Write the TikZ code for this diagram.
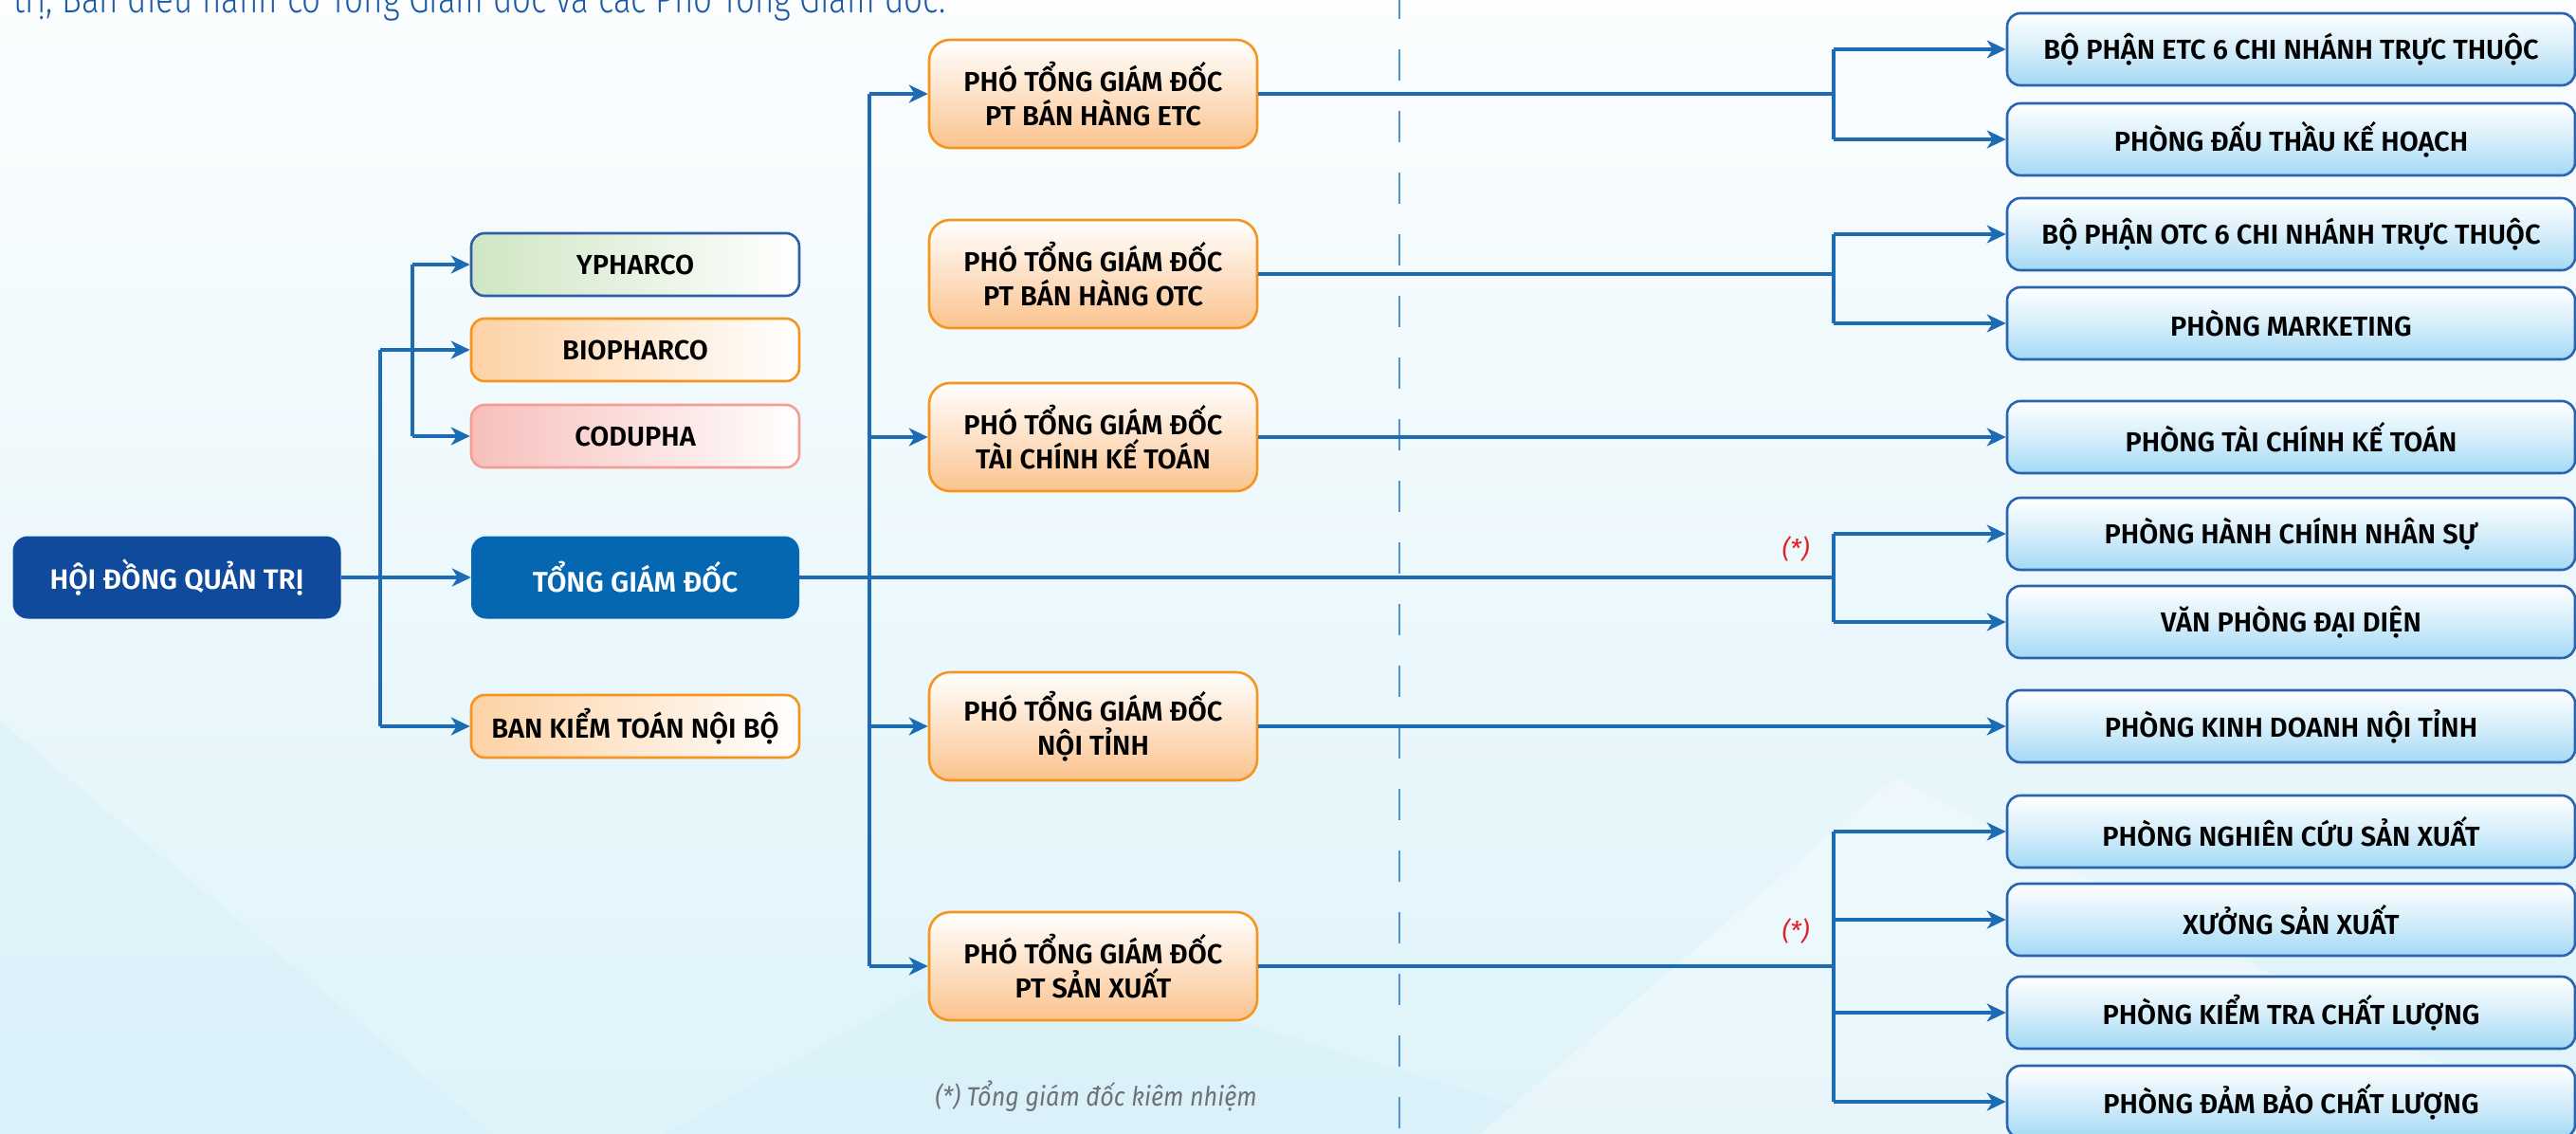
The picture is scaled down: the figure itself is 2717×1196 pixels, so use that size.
\documentclass[tikz,border=0pt]{standalone}
\usepackage{fontspec}
\setmainfont{Fira Sans}[BoldFont={Fira Sans SemiBold},ItalicFont={Fira Sans Italic},BoldItalicFont={Fira Sans SemiBold Italic}]
\newfontfamily\lightfont{Fira Sans Light}[FakeStretch=0.82]
\newfontfamily\notefont{Fira Sans}[FakeStretch=0.9]
\usetikzlibrary{arrows.meta}
\definecolor{linec}{HTML}{1B6CB4}
\definecolor{dashc}{HTML}{4F93D2}
\definecolor{navy}{HTML}{0F4A9C}
\definecolor{tgdc}{HTML}{0567B2}
\definecolor{orgb}{HTML}{F7941D}
\definecolor{orgf}{HTML}{FBC38E}
\definecolor{orgl}{HTML}{FDD2A5}
\definecolor{grnf}{HTML}{CFE6C4}
\definecolor{grnb}{HTML}{2E5EA8}
\definecolor{pnkf}{HTML}{F7BFBB}
\definecolor{pnkb}{HTML}{F59D95}
\definecolor{bluf}{HTML}{A3D9F5}
\definecolor{blub}{HTML}{2A64B0}
\definecolor{redc}{HTML}{E31E24}
\definecolor{grayc}{HTML}{6D7278}
\definecolor{introc}{HTML}{1C5AA6}
\definecolor{bgtop}{HTML}{FBFDFE}
\definecolor{bgbot}{HTML}{DEF3FA}
\definecolor{bgsh}{HTML}{D3EEF8}
\begin{document}
\begin{tikzpicture}[x=1pt,y=-1pt,
  conn/.style={draw=linec,line width=3.2pt},
  arr/.style={conn,-{Stealth[length=20pt,width=19pt,inset=6pt]}},
  lbox/.style={rectangle,rounded corners=14pt,line width=2.6pt,minimum width=346pt,minimum height=66pt,inner sep=0pt,
     font=\bfseries\fontsize{29}{34}\selectfont,text=black,right color=white},
  dbox/.style={rectangle,rounded corners=16pt,minimum width=346pt,minimum height=87pt,inner sep=0pt,
     font=\bfseries\fontsize{29.5}{34}\selectfont,text=white},
  mbox/.style={rectangle,rounded corners=22pt,line width=2.6pt,draw=orgb,top color=white,bottom color=orgf,
     minimum width=346pt,minimum height=114pt,inner sep=0pt,align=center,
     font=\bfseries\fontsize{29}{36}\selectfont,text=black},
  rbox/.style={rectangle,rounded corners=14pt,line width=2.6pt,draw=blub,top color=white,bottom color=bluf,
     middle color=white!55!bluf,
     minimum width=599pt,minimum height=76pt,inner sep=0pt,
     font=\bfseries\fontsize{29}{34}\selectfont,text=black},
  star/.style={text=redc,font=\itshape\fontsize{27}{30}\selectfont,inner sep=0pt}
]
\useasboundingbox (0,0) rectangle (2717,1196);
\clip (0,0) rectangle (2717,1196);
% background
\fill[top color=bgtop,bottom color=bgbot] (0,0) rectangle (2717,1196);
\fill[bgsh,opacity=0.35] (0,760) -- (520,1196) -- (0,1196) -- cycle;
\fill[bgsh,opacity=0.3] (700,1196) -- (1050,1000) -- (1700,1196) -- cycle;
\fill[white,opacity=0.3] (1560,1196) -- (2000,820) -- (2717,1196) -- cycle;

% intro text (clipped at top)
\node[anchor=base west,inner sep=0pt,text=introc,font=\lightfont\fontsize{42.5}{46}\selectfont] (intro) at (14,14)
  {trị, Ban điều hành có Tổng Giám đốc và các Phó Tổng Giám đốc.};

% dashed divider
\coordinate (dtop) at (1476,-13);
\coordinate (dbot) at (1476,1196);
\draw[dashc,line width=2pt,dash pattern=on 33pt off 32pt] (dtop) -- (dbot);

% left column
\node[dbox,fill=navy] (hdqt) at (186.5,609) {HỘI ĐỒNG QUẢN TRỊ};
\node[lbox,draw=grnb,left color=grnf] (yph) at (670,279) {YPHARCO};
\node[lbox,draw=orgb,left color=orgl] (bio) at (670,369) {BIOPHARCO};
\node[lbox,draw=pnkb,left color=pnkf] (cod) at (670,460) {CODUPHA};
\node[dbox,fill=tgdc,font=\bfseries\fontsize{30}{34}\selectfont] (tgd) at (670,609) {TỔNG GIÁM ĐỐC};
\node[lbox,draw=orgb,left color=orgl] (bkt) at (670,766) {BAN KIỂM TOÁN NỘI BỘ};

% middle column
\node[mbox] (m1) at (1153,99) {PHÓ TỔNG GIÁM ĐỐC\\PT BÁN HÀNG ETC};
\node[mbox] (m2) at (1153,289) {PHÓ TỔNG GIÁM ĐỐC\\PT BÁN HÀNG OTC};
\node[mbox] (m3) at (1153,461) {PHÓ TỔNG GIÁM ĐỐC\\TÀI CHÍNH KẾ TOÁN};
\node[mbox] (m4) at (1153,766) {PHÓ TỔNG GIÁM ĐỐC\\NỘI TỈNH};
\node[mbox] (m5) at (1153,1019) {PHÓ TỔNG GIÁM ĐỐC\\PT SẢN XUẤT};

% right column
\node[rbox] (r1) at (2416.5,52) {BỘ PHẬN ETC 6 CHI NHÁNH TRỰC THUỘC};
\node[rbox] (r2) at (2416.5,147) {PHÒNG ĐẤU THẦU KẾ HOẠCH};
\node[rbox] (r3) at (2416.5,247) {BỘ PHẬN OTC 6 CHI NHÁNH TRỰC THUỘC};
\node[rbox] (r4) at (2416.5,341) {PHÒNG MARKETING};
\node[rbox] (r5) at (2416.5,461) {PHÒNG TÀI CHÍNH KẾ TOÁN};
\node[rbox] (r6) at (2416.5,563) {PHÒNG HÀNH CHÍNH NHÂN SỰ};
\node[rbox] (r7) at (2416.5,656) {VĂN PHÒNG ĐẠI DIỆN};
\node[rbox] (r8) at (2416.5,766) {PHÒNG KINH DOANH NỘI TỈNH};
\node[rbox] (r9) at (2416.5,877) {PHÒNG NGHIÊN CỨU SẢN XUẤT};
\node[rbox] (r10) at (2416.5,970) {XƯỞNG SẢN XUẤT};
\node[rbox] (r11) at (2416.5,1068) {PHÒNG KIỂM TRA CHẤT LƯỢNG};
\node[rbox] (r12) at (2416.5,1162) {PHÒNG ĐẢM BẢO CHẤT LƯỢNG};

% bus coordinates
\coordinate (bx1) at (401,0);
\coordinate (bx2) at (435,0);
\coordinate (bx3) at (917,0);
\coordinate (bx4) at (1934,0);

% left connectors
\draw[conn] (bx1 |- bio.west) -- (bx1 |- bkt.west);
\draw[arr] (bx1 |- bio.west) -- (bio.west);
\draw[arr] (bx1 |- bkt.west) -- (bkt.west);
\draw[arr] (hdqt.east) -- (tgd.west);
\draw[conn] (bx2 |- yph.west) -- (bx2 |- cod.west);
\draw[arr] (bx2 |- yph.west) -- (yph.west);
\draw[arr] (bx2 |- cod.west) -- (cod.west);

% middle trunk
\draw[conn] (bx3 |- m1.west) -- (bx3 |- m5.west);
\draw[arr] (bx3 |- m1.west) -- (m1.west);
\draw[arr] (bx3 |- m3.west) -- (m3.west);
\draw[arr] (bx3 |- m4.west) -- (m4.west);
\draw[arr] (bx3 |- m5.west) -- (m5.west);

% right connectors
\draw[conn] (m1.east) -- (bx4 |- m1.east);
\draw[conn] (bx4 |- r1.west) -- (bx4 |- r2.west);
\draw[arr] (bx4 |- r1.west) -- (r1.west);
\draw[arr] (bx4 |- r2.west) -- (r2.west);

\draw[conn] (m2.east) -- (bx4 |- m2.east);
\draw[conn] (bx4 |- r3.west) -- (bx4 |- r4.west);
\draw[arr] (bx4 |- r3.west) -- (r3.west);
\draw[arr] (bx4 |- r4.west) -- (r4.west);

\draw[arr] (m3.east) -- (r5.west);

\draw[conn] (tgd.east) -- (bx4 |- tgd.east);
\draw[conn] (bx4 |- r6.west) -- (bx4 |- r7.west);
\draw[arr] (bx4 |- r6.west) -- (r6.west);
\draw[arr] (bx4 |- r7.west) -- (r7.west);

\draw[arr] (m4.east) -- (r8.west);

\draw[conn] (m5.east) -- (bx4 |- m5.east);
\draw[conn] (bx4 |- r9.west) -- (bx4 |- r12.west);
\draw[arr] (bx4 |- r9.west) -- (r9.west);
\draw[arr] (bx4 |- r10.west) -- (r10.west);
\draw[arr] (bx4 |- r11.west) -- (r11.west);
\draw[arr] (bx4 |- r12.west) -- (r12.west);

% labels
\node[star] (s1) at (1894,579) {(*)};
\node[star] (s2) at (1894,982) {(*)};
\node[text=grayc,font=\notefont\itshape\fontsize{28}{32}\selectfont,inner sep=0pt] (note) at (1156,1156)
  {(*) Tổng giám đốc kiêm nhiệm};
\end{tikzpicture}
\end{document}
